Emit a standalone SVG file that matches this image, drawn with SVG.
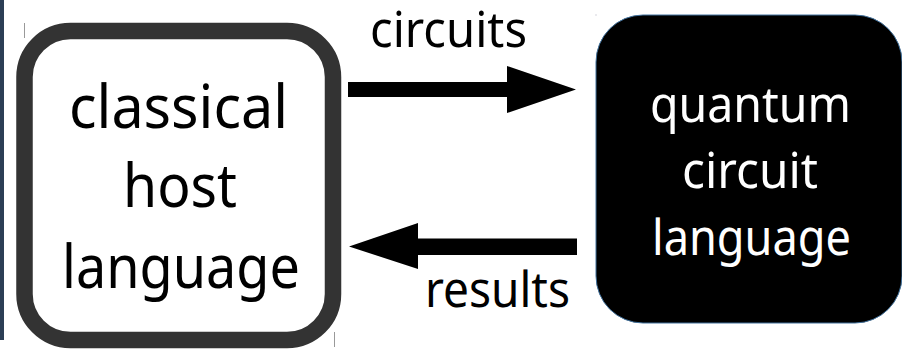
<svg xmlns="http://www.w3.org/2000/svg" width="902" height="351" viewBox="0 0 902 351">
<style>
.t{font-family:"Noto Sans","Open Sans",sans-serif;text-anchor:middle}
.big{font-size:60px;fill:#000}
.mid{font-size:50px;fill:#fff}
.lbl{font-size:50px;fill:#000}
.tick{stroke:#999;stroke-width:1}
</style>
<rect x="0" y="0" width="4" height="340" fill="#2c3e55"/>
<line class="tick" x1="24.5" y1="23" x2="24.5" y2="38"/>
<line class="tick" x1="334.5" y1="332" x2="334.5" y2="347"/>
<rect x="595.5" y="14.5" width="1" height="1" fill="#aab"/>
<g id="classical">
<rect x="24.5" y="31" width="308.5" height="309" rx="46" ry="46" fill="#fff" stroke="#333" stroke-width="16.5"/>
<text class="t big" x="178.5" y="128" textLength="219" lengthAdjust="spacingAndGlyphs">classical</text>
<text class="t big" x="180" y="207" textLength="114" lengthAdjust="spacingAndGlyphs">host</text>
<text class="t big" x="181" y="288" textLength="238" lengthAdjust="spacingAndGlyphs">language</text>
</g>
<g id="quantum">
<rect x="596" y="15" width="306" height="308" rx="47" ry="47" fill="#000" stroke="#41719c" stroke-width="1"/>
<text class="t mid" x="750.5" y="122" textLength="201" lengthAdjust="spacingAndGlyphs">quantum</text>
<text class="t mid" x="750" y="188" textLength="136" lengthAdjust="spacingAndGlyphs">circuit</text>
<text class="t mid" x="751.5" y="255" textLength="199" lengthAdjust="spacingAndGlyphs">language</text>
</g>
<g id="connectors">
<polygon points="348,82 507,82 507,66 576,89.5 507,113 507,97 348,97" fill="#000"/>
<text class="t lbl" x="448.5" y="47" textLength="157" lengthAdjust="spacingAndGlyphs">circuits</text>
<polygon points="577,238.5 418,238.5 418,223 349,246.5 418,269 418,255 577,255" fill="#000"/>
<text class="t lbl" x="497.5" y="307" textLength="145" lengthAdjust="spacingAndGlyphs">results</text>
</g>
</svg>
